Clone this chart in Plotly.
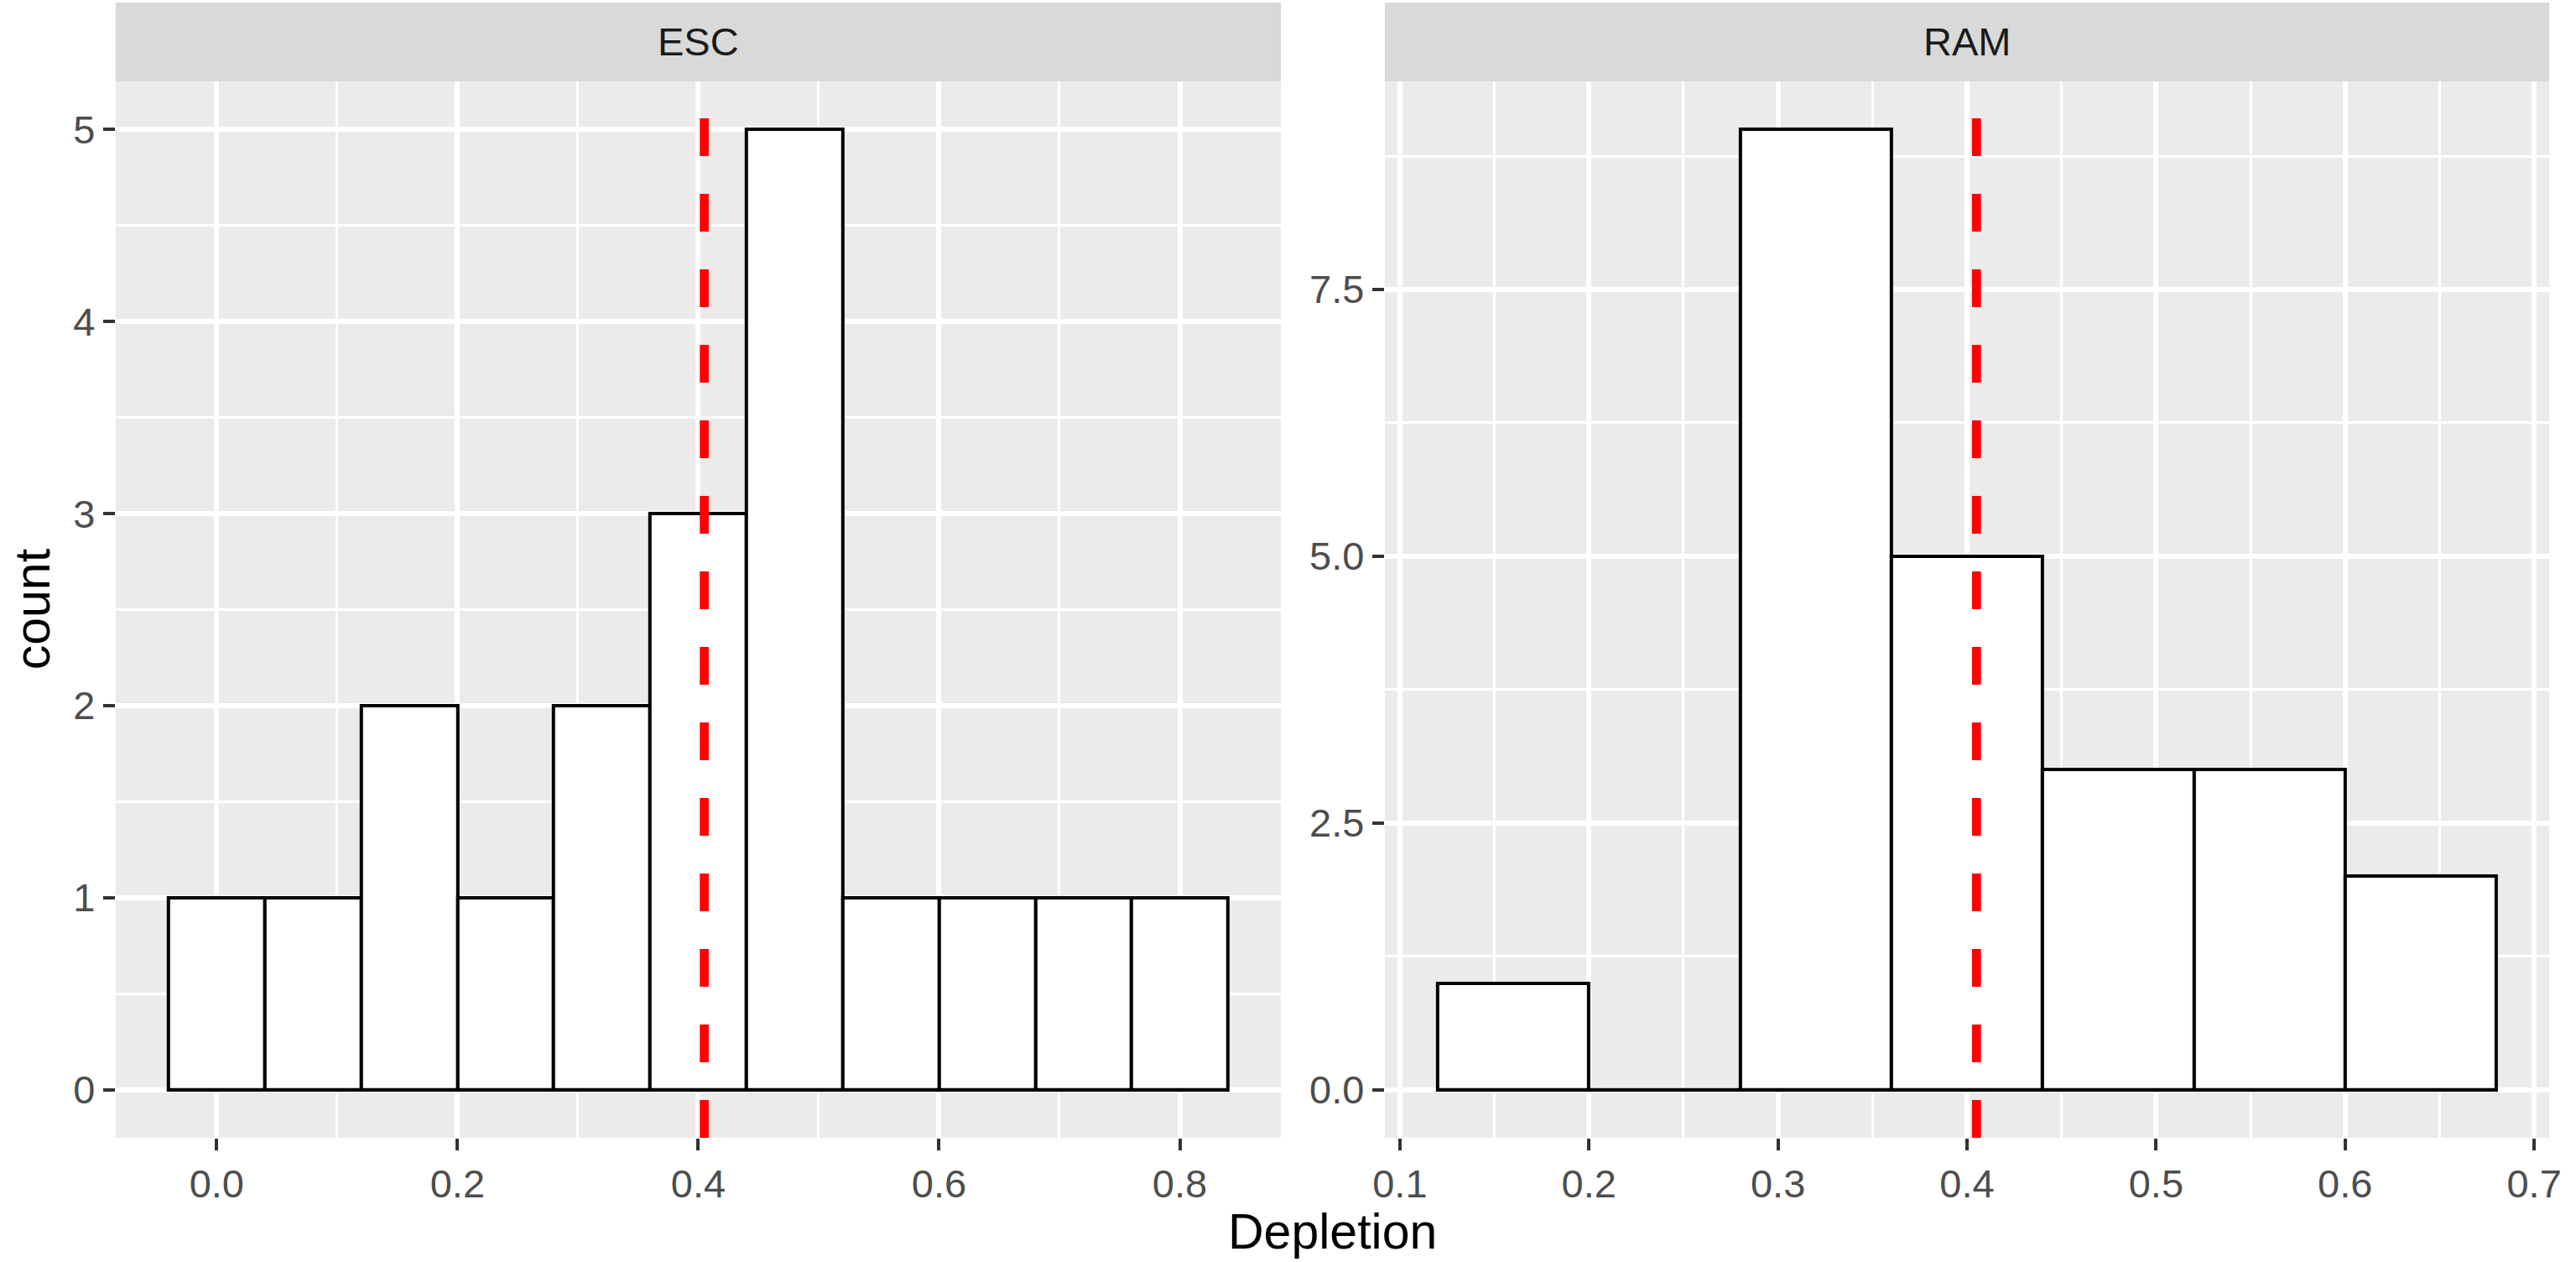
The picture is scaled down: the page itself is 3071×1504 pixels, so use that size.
import plotly.graph_objects as go

# ---- data ----
panels = ["ESC", "RAM"]
esc_edges = [-0.04, 0.04, 0.12, 0.20, 0.28, 0.36, 0.44, 0.52, 0.60, 0.68, 0.76, 0.84]
esc_counts = [1, 1, 2, 1, 2, 3, 5, 1, 1, 1, 1]
ram_edges = [0.12, 0.20, 0.28, 0.36, 0.44, 0.52, 0.60, 0.68]
ram_counts = [1, 0, 9, 5, 3, 3, 2]
ref_line = [0.405, 0.405]  # dashed reference line per panel

esc_xticks = [0.0, 0.2, 0.4, 0.6, 0.8]
esc_yticks = [0, 1, 2, 3, 4, 5]
ram_xticks = [0.1, 0.2, 0.3, 0.4, 0.5, 0.6, 0.7]
ram_yticks = [0.0, 2.5, 5.0, 7.5]

FONT = "Liberation Sans, Arial, sans-serif"
W, H = 3071, 1504

# panel geometry (pixels)
px_left = [(124, 1527), (1652, 3054)]
py_top, py_bot, strip_top = 97, 1356, 3

def xd(a, b):
    return [a / W, b / W]

ydom = [1 - py_bot / H, 1 - py_top / H]

fig = go.Figure()

def add_hist(edges, counts, xa, ya):
    centers = [(edges[i] + edges[i + 1]) / 2 for i in range(len(counts))]
    widths = [edges[i + 1] - edges[i] for i in range(len(counts))]
    fig.add_trace(go.Scatter(
        x=[edges[0], edges[-1]], y=[0, 0], mode="lines",
        line=dict(color="black", width=4), xaxis=xa, yaxis=ya,
        showlegend=False, hoverinfo="skip"))
    fig.add_trace(go.Bar(
        x=centers, y=counts, width=widths,
        marker=dict(color="white", line=dict(color="black", width=4)),
        xaxis=xa, yaxis=ya, showlegend=False))

add_hist(esc_edges, esc_counts, "x", "y")
add_hist(ram_edges, ram_counts, "x2", "y2")

def rng(lo, hi):
    e = (hi - lo) * 0.05
    return [lo - e, hi + e]

common_axis = dict(
    ticks="outside", ticklen=14, tickwidth=4, tickcolor="#333333",
    tickfont=dict(family=FONT, size=47, color="#4D4D4D"),
    showgrid=True, gridcolor="white", gridwidth=5.5,
    zeroline=False, showline=False,
)

fig.update_layout(
    width=W, height=H,
    margin=dict(l=0, r=0, t=0, b=0),
    paper_bgcolor="white", plot_bgcolor="#EBEBEB",
    bargap=0,
    xaxis=dict(domain=xd(*px_left[0]), anchor="y", range=rng(esc_edges[0], esc_edges[-1]),
               tickvals=esc_xticks, tickformat=".1f",
               minor=dict(dtick=0.1, tick0=0, showgrid=True, gridcolor="white", gridwidth=2.8, ticks=""),
               **common_axis),
    yaxis=dict(domain=ydom, anchor="x", range=rng(0, max(esc_counts)),
               tickvals=esc_yticks, tickformat="d",
               minor=dict(dtick=0.5, tick0=0, showgrid=True, gridcolor="white", gridwidth=2.8, ticks=""),
               **common_axis),
    xaxis2=dict(domain=xd(*px_left[1]), anchor="y2", range=rng(ram_edges[0], ram_edges[-1]),
                tickvals=ram_xticks, tickformat=".1f",
                minor=dict(dtick=0.05, tick0=0, showgrid=True, gridcolor="white", gridwidth=2.8, ticks=""),
                **common_axis),
    yaxis2=dict(domain=ydom, anchor="x2", range=rng(0, max(ram_counts)),
                tickvals=ram_yticks, tickformat=".1f",
                minor=dict(dtick=1.25, tick0=0, showgrid=True, gridcolor="white", gridwidth=2.8, ticks=""),
                **common_axis),
)

shapes = []
annotations = []
for i, (name, (a, b)) in enumerate(zip(panels, px_left)):
    shapes.append(dict(type="rect", xref="paper", yref="paper",
                       x0=a / W, x1=b / W, y0=ydom[1], y1=1 - strip_top / H,
                       fillcolor="#D9D9D9", line=dict(width=0), layer="below"))
    annotations.append(dict(text=name, xref="paper", yref="paper",
                            x=(a + b) / 2 / W, y=(ydom[1] + 1 - strip_top / H) / 2,
                            showarrow=False, xanchor="center", yanchor="middle",
                            font=dict(family=FONT, size=47, color="#1A1A1A")))
    xa = "x" if i == 0 else "x2"
    ya = "y domain" if i == 0 else "y2 domain"
    shapes.append(dict(type="line", xref=xa, yref=ya, x0=ref_line[i], x1=ref_line[i],
                       y0=0, y1=1, line=dict(color="#FF0000", width=10.7, dash="45px,45px"),
                       layer="above"))

annotations.append(dict(text="Depletion", xref="paper", yref="paper",
                        x=(px_left[0][0] + px_left[1][1]) / 2 / W, y=1 - 1468 / H,
                        showarrow=False, xanchor="center", yanchor="middle",
                        font=dict(family=FONT, size=59, color="black")))
annotations.append(dict(text="count", xref="paper", yref="paper",
                        x=24 / W, y=(ydom[0] + ydom[1]) / 2, textangle=-90,
                        showarrow=False, xanchor="center", yanchor="middle",
                        font=dict(family=FONT, size=59, color="black")))

fig.update_layout(shapes=shapes, annotations=annotations)
fig.write_html("out.html",
               config={"displayModeBar": False},
               post_script="document.body.style.margin='0';document.body.style.overflow='hidden';")
